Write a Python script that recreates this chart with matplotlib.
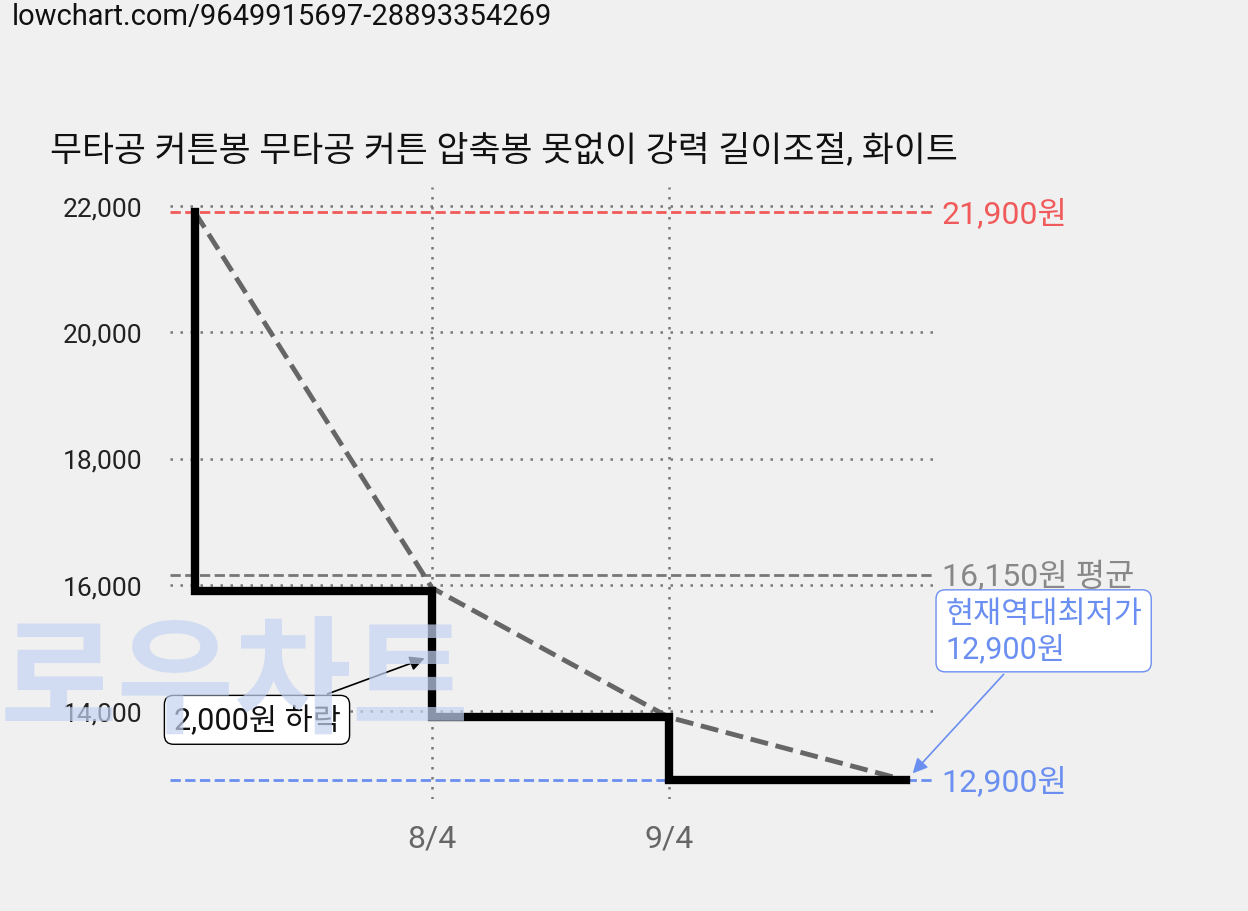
import matplotlib
matplotlib.use("Agg")
import matplotlib.pyplot as plt

plt.rcParams['font.family'] = ['Roboto', 'Noto Sans CJK KR', 'DejaVu Sans']

x_pos = [0, 1, 2, 3]
step_prices = [21900, 15900, 13900, 12900]
trend = [21900, 15950, 13900, 12900]
xtick_pos = [1, 2]
xtick_labels = ['8/4', '9/4']
yticks = [14000, 16000, 18000, 20000, 22000]
max_p, min_p, avg_p = 21900, 12900, 16150
title = '무타공 커튼봉 무타공 커튼 압축봉 못없이 강력 길이조절, 화이트'

W, H = 1248, 912
fig = plt.figure(figsize=(W/100, H/100), dpi=100, facecolor='#f0f0f0')
ax = fig.add_axes([170/W, 1-800/H, 765/W, 612/H])
ax.set_facecolor('#f0f0f0')
ax.set_xlim(-0.105, 3.122)
ppu = 505/8000
ax.set_ylim(14000 - (800-712)/ppu, 22000 + (207-188)/ppu)
for s in ax.spines.values():
    s.set_visible(False)

fig.text(12/W, 1-17/H, 'lowchart.com/9649915697-28893354269', fontsize=21, va='center', color='#111')
fig.text(50/W, 1-150/H, title, fontsize=25, va='center', color='#111')

fig.text(0/W, 1-688/H, '로우차트', fontsize=92, fontweight='bold', color='#c5d3f2', alpha=0.7,
         va='center', ha='left', zorder=0)

for y in yticks:
    ax.axhline(y, color='#777', ls=(0, (1, 3)), lw=1.8, zorder=1)
for x in xtick_pos:
    ax.axvline(x, color='#777', ls=(0, (1, 3)), lw=1.8, zorder=1)

ax.set_yticks(yticks)
ax.set_yticklabels([f'{v:,}' for v in yticks], fontsize=19, color='#222')
ax.set_xticks(xtick_pos)
ax.set_xticklabels(xtick_labels, fontsize=23, color='#666')
ax.tick_params(length=0, pad=20)
ax.tick_params(axis='x', pad=18)

ax.axhline(max_p, color='#f05a5a', ls='--', lw=2, zorder=2)
ax.axhline(min_p, color='#6b8ff0', ls='--', lw=2, zorder=2)
ax.axhline(avg_p, color='#777', ls='--', lw=2, zorder=2)
ax.text(3.15, max_p, f'{max_p:,}원', color='#f05a5a', fontsize=23, va='center', clip_on=False)
ax.text(3.15, min_p, f'{min_p:,}원', color='#6b8ff0', fontsize=23, va='center', clip_on=False)
ax.text(3.15, avg_p, f'{avg_p:,}원 평균', color='#888', fontsize=23, va='center', clip_on=False)

ax.plot(x_pos, trend, color='#666', ls='--', lw=3.5, zorder=3)
xs, ys = [x_pos[0]], [step_prices[0]]
for i in range(1, len(x_pos)):
    xs += [x_pos[i-1], x_pos[i]]
    ys += [step_prices[i], step_prices[i]]
ax.plot(xs, ys, color='black', lw=6, zorder=4, solid_joinstyle='miter')

ax.annotate('2,000원 하락', xy=(0.98, 14850), xytext=(-0.09, 13860), fontsize=22, color='#111',
            ha='left', va='center', zorder=6,
            bbox=dict(boxstyle='round,pad=0.3', fc='white', ec='black', lw=1),
            arrowprops=dict(arrowstyle='-|>', color='black', lw=1.2))
ax.annotate('현재역대최저가\n12,900원', xy=(3.02, 12980), xytext=(3.165, 15270), fontsize=22,
            color='#6b8ff0', ha='left', va='center', zorder=6, annotation_clip=False,
            bbox=dict(boxstyle='round,pad=0.3', fc='white', ec='#6b8ff0', lw=1),
            arrowprops=dict(arrowstyle='-|>', color='#6b8ff0', lw=1.2))

fig.savefig('out.png', dpi=100, facecolor=fig.get_facecolor())
